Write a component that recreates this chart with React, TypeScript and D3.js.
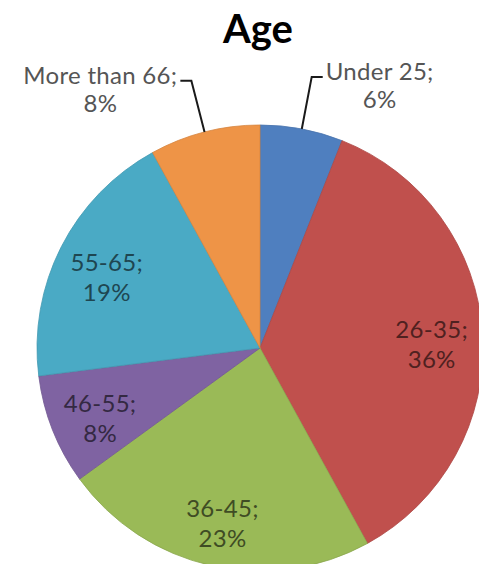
import * as React from 'react';
import {useEffect, useRef} from 'react';
import * as d3 from 'd3';

const categories = ['Under 25', '26-35', '36-45', '46-55', '55-65', 'More than 66'];
const shares = [6, 36, 23, 8, 19, 8];
const colors = ['#4F7FBF', '#C0504D', '#9ABA57', '#7F63A2', '#4AAAC5', '#EE9447'];
const outsideLabels = ['Under 25', 'More than 66'];

const width = 479;
const height = 564;
const cx = 260;
const cy = 348;
const radius = 223;

const App = () => {
    const ref = useRef<SVGSVGElement>(null);

    useEffect(() => {
        const svg = d3.select(ref.current);
        svg.selectAll('*').remove();

        const data = categories.map((c, i) => ({label: c, value: shares[i], color: colors[i]}));
        const pie = d3.pie<any>().sort(null).value(d => d.value);
        const arcs = pie(data);
        const arc = d3.arc<any>().innerRadius(0).outerRadius(radius);
        const labelArc = d3.arc<any>().innerRadius(172).outerRadius(172);

        svg.append('text')
            .attr('x', 258)
            .attr('y', 43)
            .attr('text-anchor', 'middle')
            .attr('font-family', 'Lato, sans-serif')
            .attr('font-weight', 'bold')
            .attr('font-size', 40)
            .attr('fill', '#000')
            .text('Age');

        const g = svg.append('g').attr('transform', `translate(${cx},${cy})`);

        g.selectAll('path.slice')
            .data(arcs)
            .join('path')
            .attr('class', 'slice')
            .attr('d', arc)
            .attr('fill', d => d.data.color)
            .attr('stroke', d => d3.color(d.data.color)!.darker(0.3).toString())
            .attr('stroke-width', 0.8);

        // inside labels
        arcs.filter(d => !outsideLabels.includes(d.data.label)).forEach(d => {
            const [x, y] = labelArc.centroid(d);
            const t = g.append('text')
                .attr('text-anchor', 'middle')
                .attr('font-family', 'Lato, sans-serif')
                .attr('font-size', 24)
                .attr('letter-spacing', 0.3)
                .attr('fill', d3.color(d.data.color)!.darker(2.5).toString());
            t.append('tspan').attr('x', x).attr('y', y + 1).text(`${d.data.label};`);
            t.append('tspan').attr('x', x).attr('y', y + 31).text(`${d.data.value}%`);
        });

        // outside labels with leader lines
        arcs.filter(d => outsideLabels.includes(d.data.label)).forEach(d => {
            const mid = (d.startAngle + d.endAngle) / 2;
            const p0 = [Math.sin(mid) * radius, -Math.cos(mid) * radius];
            const r1 = 276;
            const p1 = [Math.sin(mid) * r1, -Math.cos(mid) * r1];
            const side = Math.sin(mid) >= 0 ? 1 : -1;
            const p2 = [p1[0] + side * 11, p1[1]];

            g.append('path')
                .attr('d', d3.line()([p0, p1, p2] as [number, number][]))
                .attr('fill', 'none')
                .attr('stroke', '#1a1a1a')
                .attr('stroke-width', 2);

            const t = g.append('text')
                .attr('text-anchor', 'middle')
                .attr('font-family', 'Lato, sans-serif')
                .attr('font-size', 24)
                .attr('letter-spacing', 0.3)
                .attr('fill', '#555');
            const l1 = t.append('tspan').attr('y', p1[1] + 3).text(`${d.data.label};`);
            const w = (l1.node() as SVGTSpanElement).getComputedTextLength();
            const x = p2[0] + side * (w / 2 + 3);
            l1.attr('x', x);
            t.append('tspan').attr('x', x).attr('y', p1[1] + 31).text(`${d.data.value}%`);
        });
    }, []);

    return (
        <svg ref={ref} width={width} height={height}
             style={{position: 'absolute', left: 0, top: 0, background: '#fff'}}/>
    );
};

export default App;
